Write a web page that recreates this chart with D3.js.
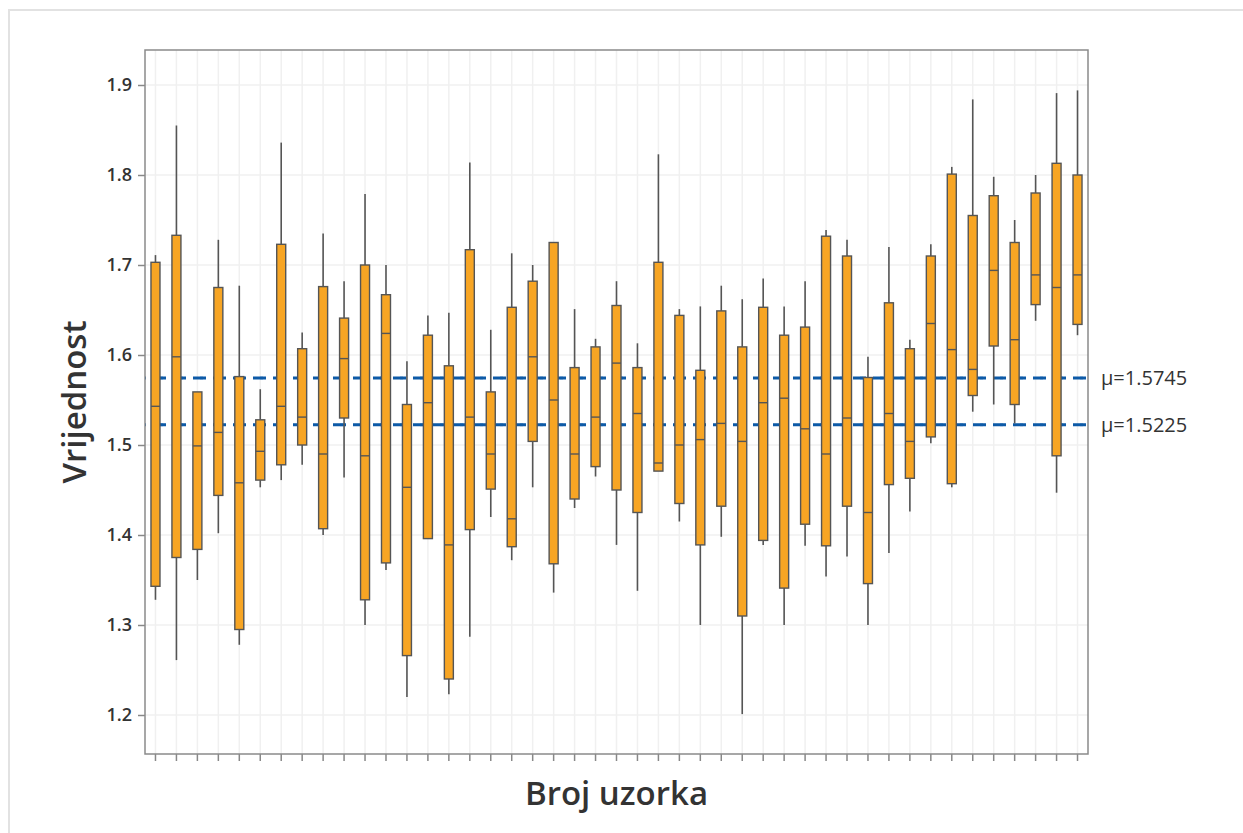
<!DOCTYPE html>
<html>
<head>
<meta charset="utf-8">
<script src="https://cdn.jsdelivr.net/npm/d3@7"></script>
<style>
  html, body { margin: 0; padding: 0; background: #fff; }
  svg { display: block; }
  text { font-family: "Open Sans", "Noto Sans", "DejaVu Sans", sans-serif; fill: #333; }
</style>
</head>
<body>
<svg id="chart" width="1243" height="833"></svg>
<script>
// ---- data ----
const categories = d3.range(1, 46).map(String);
const whiskerHigh = [1.711,1.855,1.559,1.728,1.677,1.562,1.836,1.625,1.735,1.682,1.779,1.700,1.593,1.644,1.647,1.814,1.628,1.713,1.700,1.725,1.651,1.618,1.682,1.613,1.823,1.651,1.654,1.677,1.662,1.685,1.654,1.682,1.739,1.728,1.598,1.720,1.617,1.723,1.809,1.884,1.798,1.750,1.800,1.891,1.894];
const q3Values   = [1.703,1.733,1.559,1.675,1.576,1.528,1.723,1.607,1.676,1.641,1.700,1.667,1.545,1.622,1.588,1.717,1.559,1.653,1.682,1.725,1.586,1.609,1.655,1.586,1.703,1.644,1.583,1.649,1.609,1.653,1.622,1.631,1.732,1.710,1.575,1.658,1.607,1.710,1.801,1.755,1.777,1.725,1.780,1.813,1.800];
const medians    = [1.543,1.598,1.499,1.514,1.458,1.493,1.543,1.531,1.490,1.596,1.488,1.624,1.453,1.547,1.389,1.531,1.490,1.418,1.598,1.550,1.490,1.531,1.591,1.535,1.480,1.500,1.506,1.524,1.504,1.547,1.552,1.518,1.490,1.530,1.425,1.535,1.504,1.635,1.606,1.584,1.694,1.617,1.689,1.675,1.689];
const q1Values   = [1.343,1.375,1.384,1.444,1.295,1.461,1.478,1.500,1.407,1.530,1.328,1.369,1.266,1.396,1.240,1.406,1.451,1.387,1.504,1.368,1.440,1.476,1.450,1.425,1.471,1.435,1.389,1.432,1.310,1.394,1.341,1.412,1.388,1.432,1.346,1.456,1.463,1.509,1.457,1.555,1.610,1.545,1.656,1.488,1.634];
const whiskerLow = [1.328,1.261,1.350,1.402,1.278,1.453,1.461,1.478,1.400,1.464,1.300,1.361,1.220,1.396,1.223,1.287,1.420,1.372,1.453,1.336,1.430,1.465,1.389,1.338,1.471,1.415,1.300,1.398,1.201,1.389,1.300,1.388,1.354,1.376,1.300,1.380,1.426,1.502,1.453,1.537,1.545,1.524,1.638,1.447,1.622];
const meanValues = [1.5745, 1.5225];
const meanLabels = ["μ=1.5745", "μ=1.5225"];
const yTickValues = [1.2, 1.3, 1.4, 1.5, 1.6, 1.7, 1.8, 1.9];
const yTickLabels = ["1.2", "1.3", "1.4", "1.5", "1.6", "1.7", "1.8", "1.9"];
const xTitle = "Broj uzorka";
const yTitle = "Vrijednost";

const boxes = categories.map((c, i) => ({
  cat: c, lo: whiskerLow[i], q1: q1Values[i], med: medians[i], q3: q3Values[i], hi: whiskerHigh[i]
}));

// ---- layout ----
const svg = d3.select("#chart");
const L = 145, R = 1088, T = 50, B = 754;

// outer panel border
svg.append("rect").attr("x", 9).attr("y", 10).attr("width", 1300).attr("height", 900)
  .attr("fill", "none").attr("stroke", "#e2e2e2").attr("stroke-width", 2);

const x = d3.scaleBand().domain(categories).range([L, R]).padding(0);
const y = d3.scaleLinear().domain([1.2 - 39/900, 1.9 + 35/900]).range([B, T]);

// grid
const grid = svg.append("g");
grid.selectAll("line.hg").data(yTickValues).join("line")
  .attr("x1", L).attr("x2", R).attr("y1", d => y(d)).attr("y2", d => y(d))
  .attr("stroke", "#f0f0f0").attr("stroke-width", 1.5);
grid.selectAll("line.vg").data(categories).join("line")
  .attr("x1", d => x(d) + x.bandwidth()/2).attr("x2", d => x(d) + x.bandwidth()/2)
  .attr("y1", T).attr("y2", B)
  .attr("stroke", "#f0f0f0").attr("stroke-width", 1.5);

// axes
const yAxis = d3.axisLeft(y).tickValues(yTickValues).tickFormat((d, i) => yTickLabels[i]).tickSize(7).tickPadding(6);
const gy = svg.append("g").attr("transform", `translate(${L},0)`).call(yAxis);
gy.select(".domain").remove();
gy.selectAll(".tick line").attr("stroke", "#888").attr("stroke-width", 1.5);
gy.selectAll(".tick text").attr("font-size", 18).attr("font-weight", 600).attr("fill", "#333")
  .style("font-family", '"Open Sans", sans-serif');

const xAxis = d3.axisBottom(x).tickFormat("").tickSize(7);
const gx = svg.append("g").attr("transform", `translate(0,${B})`).call(xAxis);
gx.select(".domain").remove();
gx.selectAll(".tick line").attr("stroke", "#888").attr("stroke-width", 1.5);

// mean lines (under boxes)
const means = svg.append("g");
meanValues.forEach((m, i) => {
  means.append("line").attr("x1", L).attr("x2", R).attr("y1", y(m)).attr("y2", y(m))
    .attr("stroke", "#8fb8e0").attr("stroke-width", 3).attr("stroke-dasharray", "3,17").attr("stroke-dashoffset", -15);
  means.append("line").attr("x1", L).attr("x2", R).attr("y1", y(m)).attr("y2", y(m))
    .attr("stroke", "#0d5aa7").attr("stroke-width", 3).attr("stroke-dasharray", "13,7").attr("stroke-dashoffset", -8);
  svg.append("text").attr("x", R + 13).attr("y", y(m)).attr("dy", "0.35em")
    .attr("font-size", 20).attr("fill", "#333").text(meanLabels[i]);
});

// boxes
const bw = 9;
const g = svg.append("g");
const bx = g.selectAll("g.box").data(boxes).join("g")
  .attr("transform", d => `translate(${x(d.cat) + x.bandwidth()/2},0)`);
bx.append("line").attr("x1", 0).attr("x2", 0).attr("y1", d => y(d.hi)).attr("y2", d => y(d.q3))
  .attr("stroke", "#555").attr("stroke-width", 1.6);
bx.append("line").attr("x1", 0).attr("x2", 0).attr("y1", d => y(d.q1)).attr("y2", d => y(d.lo))
  .attr("stroke", "#555").attr("stroke-width", 1.6);
bx.append("rect").attr("x", -bw/2).attr("width", bw)
  .attr("y", d => y(d.q3)).attr("height", d => Math.max(1, y(d.q1) - y(d.q3)))
  .attr("fill", "#f7a524").attr("stroke", "#555").attr("stroke-width", 1.4);
bx.append("line").attr("x1", -bw/2).attr("x2", bw/2).attr("y1", d => y(d.med)).attr("y2", d => y(d.med))
  .attr("stroke", "#555").attr("stroke-width", 1.4);

// frame
svg.append("rect").attr("x", L).attr("y", T).attr("width", R - L).attr("height", B - T)
  .attr("fill", "none").attr("stroke", "#8a8a8a").attr("stroke-width", 1.5);

// titles
svg.append("text").attr("x", (L + R)/2).attr("y", 805).attr("text-anchor", "middle")
  .attr("font-size", 33).attr("font-weight", 600).attr("fill", "#3a3a3a").text(xTitle);
svg.append("text").attr("transform", `translate(86,${(T + B)/2}) rotate(-90)`).attr("text-anchor", "middle")
  .attr("font-size", 33).attr("font-weight", 600).attr("fill", "#3a3a3a").text(yTitle);
</script>
</body>
</html>
